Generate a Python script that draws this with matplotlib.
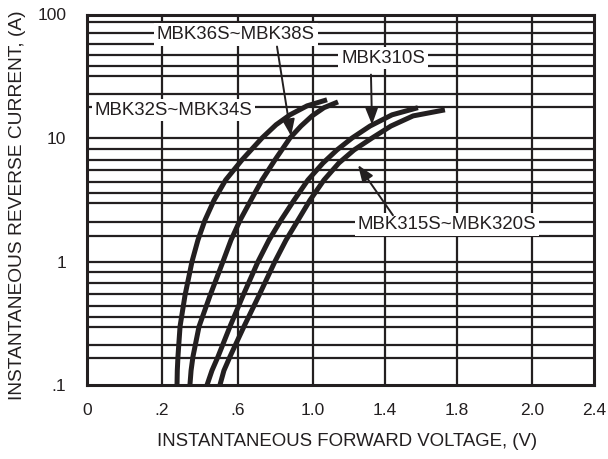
import numpy as np
import matplotlib
matplotlib.use("Agg")
import matplotlib.pyplot as plt

plt.rcParams['font.family'] = ['Liberation Sans', 'DejaVu Sans']

ink = '#231f20'

# x axis of the datasheet: labels are evenly spaced but not linear in volts
x_tick_vals = [0, 0.2, 0.6, 1.0, 1.4, 1.8, 2.0, 2.4]
x_tick_labels = ['0', '.2', '.6', '1.0', '1.4', '1.8', '2.0', '2.4']
x_tick_pos = [0, 75, 151, 226, 298, 370, 445, 507]

y_tick_vals = [0.1, 1, 10, 100]
y_tick_labels = ['.1', '1', '10', '100']
y_grid = [0.166, 0.211, 0.297, 0.358, 0.44, 0.547, 0.668, 0.82,
          1.62, 2.10, 2.95, 3.56, 4.38, 5.47, 6.61, 8.13,
          17.7, 22.8, 31.7, 38.2, 46.9, 58.1, 70.8, 87.7]

# curves (voltage, current)
v_32_34 = [0.279, 0.2805, 0.284, 0.295, 0.321, 0.358, 0.389, 0.426, 0.474, 0.535,
           0.621, 0.728, 0.803, 0.877, 0.968, 1.078]
i_32_34 = [0.1, 0.131, 0.170, 0.298, 0.531, 1.0, 1.49, 2.16, 3.14, 4.57,
           6.64, 10.0, 12.8, 15.4, 18.2, 20.4]

v_36_38 = [0.347, 0.353, 0.363, 0.395, 0.453, 0.521, 0.563, 0.611, 0.669, 0.728,
           0.797, 0.877, 0.936, 0.995, 1.061, 1.139]
i_36_38 = [0.1, 0.131, 0.170, 0.298, 0.531, 1.0, 1.49, 2.16, 3.14, 4.57,
           6.64, 10.0, 12.5, 15.1, 17.6, 19.6]

v_310 = [0.437, 0.463, 0.495, 0.558, 0.627, 0.707, 0.765, 0.829, 0.899, 0.973,
         1.056, 1.133, 1.217, 1.317, 1.439, 1.583]
i_310 = [0.1, 0.131, 0.170, 0.298, 0.531, 1.0, 1.49, 2.16, 3.14, 4.57,
         6.28, 8.0, 10.0, 12.5, 15.4, 17.6]

v_315_320 = [0.505, 0.526, 0.558, 0.632, 0.712, 0.797, 0.856, 0.920, 0.984, 1.061,
             1.144, 1.228, 1.328, 1.433, 1.556, 1.733]
i_315_320 = [0.1, 0.131, 0.170, 0.298, 0.531, 1.0, 1.49, 2.16, 3.14, 4.57,
             6.28, 8.0, 10.0, 12.5, 15.1, 16.9]

curves = [(v_32_34, i_32_34), (v_36_38, i_36_38), (v_310, i_310), (v_315_320, i_315_320)]

# label text, label position, arrow tail, arrow tip (None = no arrow)
labels = [
    ('MBK36S~MBK38S', (0.589, 68.9), (0.808, 55), (0.883, 10.4)),
    ('MBK310S', (1.389, 44.4), (1.322, 32.6), (1.328, 12.8)),
    ('MBK32S~MBK34S', (0.261, 16.8), None, None),
    ('MBK315S~MBK320S', (1.744, 1.99), (1.444, 2.37), (1.25, 6.04)),
]


def fwd(v):
    return np.interp(v, x_tick_vals, x_tick_pos)


def inv(p):
    return np.interp(p, x_tick_pos, x_tick_vals)


fig = plt.figure(figsize=(6.08, 4.59), dpi=100)
ax = fig.add_axes([87 / 608, 1 - 385 / 459, (594 - 87) / 608, (385 - 14.5) / 459])
ax.set_xscale('function', functions=(fwd, inv))
ax.set_yscale('log')
ax.set_xlim(0, 2.4)
ax.set_ylim(0.1, 100)

for v in x_tick_vals[1:-1]:
    ax.axvline(v, color=ink, lw=1.6, zorder=1)
for y in y_grid + y_tick_vals[1:-1]:
    ax.axhline(y, color=ink, lw=1.6, zorder=1)

for v, i in curves:
    ax.plot(v, i, color=ink, lw=3.6, solid_capstyle='butt', solid_joinstyle='round', zorder=4)

for txt, pos, tail, tip in labels:
    ax.text(pos[0], pos[1], txt, fontsize=13.4, color=ink, ha='center', va='center', zorder=3,
            bbox=dict(boxstyle='square,pad=0.15', facecolor='white', edgecolor='none'))
    if tip is not None:
        ax.annotate('', xy=tip, xytext=tail, zorder=5,
                    arrowprops=dict(arrowstyle='-|>,head_length=1.0,head_width=0.38',
                                    color=ink, lw=1.4, shrinkA=0, shrinkB=0))

ax.set_xticks(x_tick_vals)
ax.set_xticklabels(x_tick_labels)
ax.set_yticks(y_tick_vals)
ax.set_yticklabels(y_tick_labels)
ax.minorticks_off()
ax.tick_params(length=0, labelsize=12.5, labelcolor=ink)
ax.tick_params(axis='x', pad=13)
ax.tick_params(axis='y', pad=15)
for s in ax.spines.values():
    s.set_linewidth(2.2)
    s.set_color(ink)
    s.set_zorder(6)

fig.text(347 / 608, 1 - 441 / 459, 'INSTANTANEOUS FORWARD VOLTAGE, (V)', fontsize=13.4,
         color=ink, ha='center', va='center')
fig.text(18 / 608, 1 - 205 / 459, 'INSTANTANEOUS REVERSE CURRENT, (A)', fontsize=13.8,
         color=ink, ha='center', va='center', rotation=90)

fig.savefig('out.png', dpi=100)
